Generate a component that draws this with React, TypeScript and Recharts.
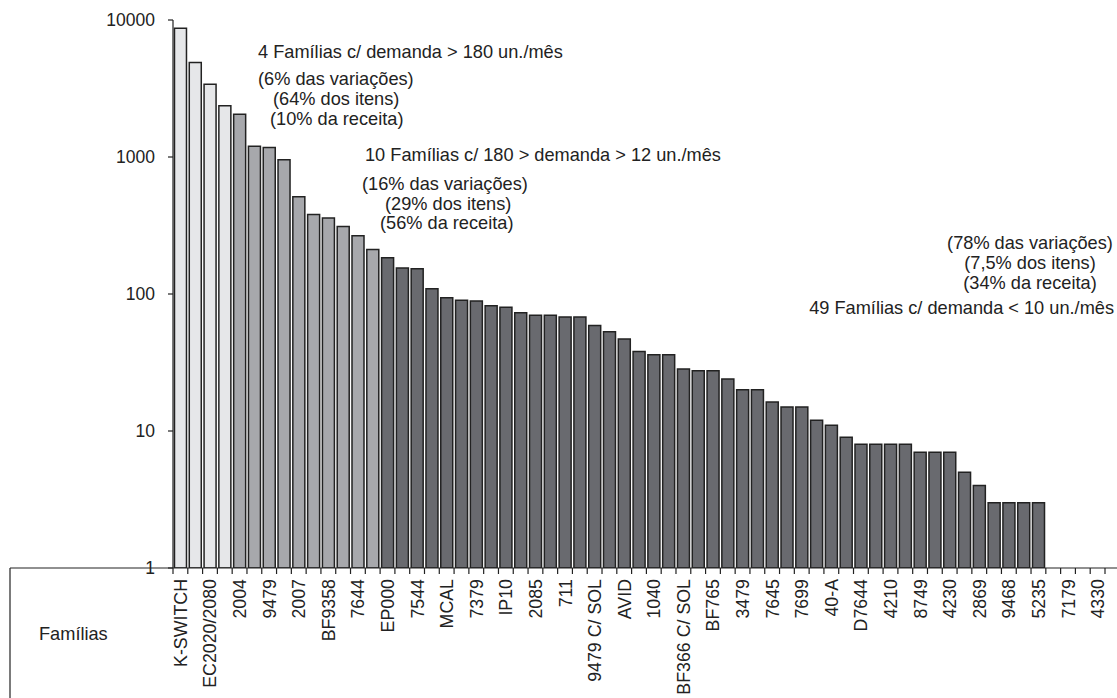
import React from 'react';
import { BarChart, Bar, XAxis, YAxis, Cell } from 'recharts';

// ---- data ----
const familyLabels: string[] = [
  'K-SWITCH', '', 'EC2020/2080', '', '2004', '', '9479', '', '2007', '',
  'BF9358', '', '7644', '', 'EP000', '', '7544', '', 'MCAL', '',
  '7379', '', 'IP10', '', '2085', '', '711', '', '9479 C/ SOL', '',
  'AVID', '', '1040', '', 'BF366 C/ SOL', '', 'BF765', '', '3479', '',
  '7645', '', '7699', '', '40-A', '', 'D7644', '', '4210', '',
  '8749', '', '4230', '', '2869', '', '9468', '', '5235', '',
  '7179', '', '4330',
];

const demand: (number | null)[] = [
  8700, 4900, 3400, 2370, 2050, 1200, 1175, 956, 513, 380,
  359, 311, 266, 211, 184, 155, 153, 109, 94, 90,
  89, 82, 80, 73, 70, 70, 68, 68, 59, 53,
  47, 38, 36, 36, 28.4, 27.5, 27.5, 24, 20, 20,
  16.3, 15, 15, 12, 11, 9, 8, 8, 8, 8,
  7, 7, 7, 5, 4, 3, 3, 3, 3, null,
  null, null, null,
];

const groupSizes = [4, 10, 49];
const groupColors = ['#e6e7e9', '#a7a8ac', '#696a6f'];
const yTicks = [1, 10, 100, 1000, 10000];

const note1 = ['4 Famílias c/ demanda > 180 un./mês', '(6% das variações)', '(64% dos itens)', '(10% da receita)'];
const note2 = ['10 Famílias c/ 180 > demanda > 12 un./mês', '(16% das variações)', '(29% dos itens)', '(56% da receita)'];
const note3 = ['(78% das variações)', '(7,5% dos itens)', '(34% da receita)', '49 Famílias c/ demanda < 10 un./mês'];
const rowTitle = 'Famílias';

// ---- layout ----
const W = 1117;
const H = 698;
const Y_W = 173;
const PAD_R = 12;
const TOP = 20;
const X_H = 130;
const N = demand.length;
const BAND = (W - Y_W - PAD_R) / N;
const FONT = '"Liberation Sans", Arial, Helvetica, sans-serif';
const INK = '#222';
const FS = 18.2;
const FS_X = 17.8;
const FS_Y = 17.5;

const groupOf = (i: number) => {
  let acc = 0;
  for (let g = 0; g < groupSizes.length; g++) {
    acc += groupSizes[g];
    if (i < acc) return g;
  }
  return groupSizes.length - 1;
};

const data = demand.map((v, i) => ({ i, v, g: groupOf(i) }));

const XTick = (props: any) => {
  const { x, y, payload } = props;
  const i = Number(payload.value);
  const label = familyLabels[i];
  return (
    <g>
      <line x1={x - BAND / 2} x2={x - BAND / 2} y1={y} y2={y + 6} stroke={INK} strokeWidth={1.2} />
      {i === N - 1 && (
        <line x1={x + BAND / 2} x2={x + BAND / 2} y1={y} y2={y + 6} stroke={INK} strokeWidth={1.2} />
      )}
      {label ? (
        <text
          x={0}
          y={0}
          transform={`translate(${x + 6.5},${y + 11}) rotate(-90)`}
          textAnchor="end"
          fontSize={FS_X}
          fontFamily={FONT}
          fill={INK}
        >
          {label}
        </text>
      ) : null}
    </g>
  );
};

const lineText = (t: string, x: number, y: number, anchor: 'start' | 'middle' | 'end' = 'start') => (
  <text key={t} x={x} y={y} textAnchor={anchor} fontSize={FS} fontFamily={FONT} fill={INK}>
    {t}
  </text>
);

export default function App() {
  return (
    <div style={{ position: 'absolute', left: 0, top: 0, width: W, height: H, overflow: 'hidden', background: '#fff', fontFamily: FONT }}>
      <BarChart
        width={W}
        height={H}
        data={data}
        margin={{ top: TOP, right: 0, bottom: 0, left: 0 }}
        barCategoryGap="10%"
      >
        <XAxis
          dataKey="i"
          type="category"
          interval={0}
          height={X_H}
          tickLine={false}
          tickSize={0}
          tickMargin={0}
          padding={{ left: 0, right: PAD_R }}
          axisLine={{ stroke: INK, strokeWidth: 1.2 }}
          tick={<XTick />}
        />
        <YAxis
          type="number"
          scale="log"
          domain={[1, 10000]}
          ticks={yTicks}
          allowDataOverflow
          interval={0}
          width={Y_W}
          tickSize={5}
          tickMargin={13}
          axisLine={{ stroke: INK, strokeWidth: 1.2 }}
          tickLine={{ stroke: INK, strokeWidth: 1.2 }}
          tick={{ fontSize: FS_Y, fill: INK, fontFamily: FONT }}
          tickFormatter={(v: number) => String(v)}
        />
        <Bar dataKey="v" isAnimationActive={false} stroke={INK} strokeWidth={1.5}>
          {data.map((d) => (
            <Cell key={d.i} fill={groupColors[d.g]} />
          ))}
        </Bar>
      </BarChart>
      <svg
        width={W}
        height={H}
        style={{ position: 'absolute', left: 0, top: 0, pointerEvents: 'none' }}
      >
        <line x1={10} x2={Y_W} y1={H - X_H} y2={H - X_H} stroke={INK} strokeWidth={1.2} />
        <line x1={10} x2={10} y1={H - X_H} y2={H} stroke={INK} strokeWidth={1.2} />
        {lineText(rowTitle, 39, 640)}
        {lineText(note1[0], 258, 58)}
        {lineText(note1[1], 258, 85)}
        {lineText(note1[2], 273, 105)}
        {lineText(note1[3], 270, 124.5)}
        {lineText(note2[0], 365, 161)}
        {lineText(note2[1], 362, 190)}
        {lineText(note2[2], 385, 209.5)}
        {lineText(note2[3], 380, 229)}
        {lineText(note3[0], 1030, 249, 'middle')}
        {lineText(note3[1], 1030, 269, 'middle')}
        {lineText(note3[2], 1030, 289, 'middle')}
        {lineText(note3[3], 1114, 314, 'end')}
      </svg>
    </div>
  );
}
